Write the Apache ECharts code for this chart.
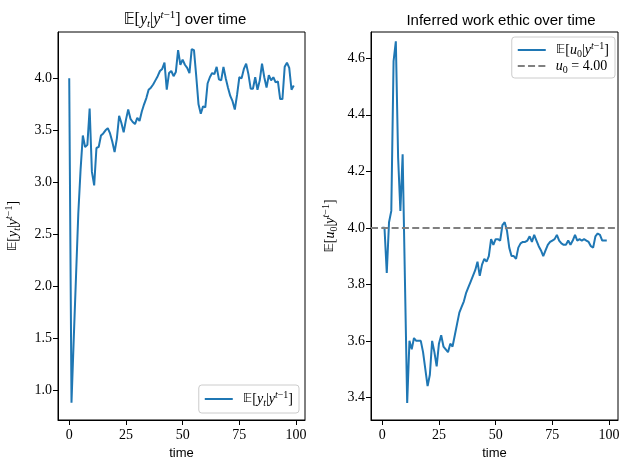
<!DOCTYPE html>
<html>
  <head>
    <meta charset="utf-8" />
    <style>
      html, body {margin: 0; padding: 0; background: #fff;}
      #chart {width: 629px; height: 470px;}
    </style>
    <script src="https://cdn.jsdelivr.net/npm/echarts@6.0.0/dist/echarts.min.js"></script>
  </head>
  <body>
    <div id="chart"></div>
    <script type="text/javascript">
      // expected output E[y_t | y^{t-1}] per time step
      var yMean = [4.00, 0.88, 1.50, 2.10, 2.70, 3.12, 3.45, 3.34, 3.36, 3.71,
                   3.10, 2.97, 3.33, 3.34, 3.45, 3.47, 3.50, 3.52, 3.47, 3.39,
                   3.29, 3.42, 3.64, 3.57, 3.48, 3.60, 3.70, 3.61, 3.58, 3.56,
                   3.62, 3.59, 3.68, 3.75, 3.81, 3.89, 3.91, 3.94, 3.98, 4.02,
                   4.07, 4.09, 4.15, 3.89, 4.05, 4.07, 4.02, 4.06, 4.27, 4.13,
                   4.18, 4.13, 4.10, 4.05, 4.28, 4.27, 4.02, 3.75, 3.66, 3.73,
                   3.72, 3.95, 4.01, 4.05, 4.04, 4.11, 3.99, 3.98, 4.11, 4.00,
                   3.91, 3.83, 3.78, 3.70, 3.84, 4.01, 4.00, 4.09, 4.14, 4.04,
                   3.90, 3.90, 4.01, 3.89, 3.98, 4.14, 4.01, 3.91, 4.03, 3.98,
                   4.01, 3.96, 3.97, 3.80, 3.80, 4.11, 4.15, 4.10, 3.89, 3.93];
      // inferred work ethic E[u_0 | y^{t-1}]
      var uMean = [4.00, 4.00, 3.84, 4.02, 4.06, 4.59, 4.66, 4.25, 4.06, 4.26,
                   3.82, 3.38, 3.60, 3.57, 3.61, 3.60, 3.60, 3.60, 3.56, 3.50,
                   3.44, 3.48, 3.60, 3.56, 3.51, 3.59, 3.62, 3.58, 3.57, 3.56,
                   3.59, 3.58, 3.62, 3.66, 3.70, 3.72, 3.74, 3.77, 3.79, 3.81,
                   3.83, 3.85, 3.88, 3.83, 3.87, 3.89, 3.88, 3.90, 3.96, 3.94,
                   3.96, 3.96, 3.955, 4.01, 4.02, 3.99, 3.93, 3.90, 3.90, 3.89,
                   3.93, 3.945, 3.95, 3.95, 3.955, 3.97, 3.95, 3.975, 3.955, 3.935,
                   3.92, 3.90, 3.92, 3.94, 3.95, 3.955, 3.96, 3.975, 3.955, 3.945,
                   3.94, 3.94, 3.955, 3.94, 3.955, 3.975, 3.955, 3.96, 3.955, 3.96,
                   3.955, 3.95, 3.935, 3.93, 3.97, 3.98, 3.975, 3.955, 3.955, 3.955];
      var u0 = 4.00;
      var times = yMean.map(function (v, i) { return i; });

      var xTicks = [0, 25, 50, 75, 100];
      var yTicksLeft = [1.0, 1.5, 2.0, 2.5, 3.0, 3.5, 4.0];
      var yTicksRight = [3.4, 3.6, 3.8, 4.0, 4.2, 4.4, 4.6];

      var blue = '#1f77b4';
      var grey = '#808080';
      var dash = [7, 3.3];
      var serif = 'Liberation Serif';
      var sans = 'Liberation Sans';

      // little bits of "math" text done with rich text
      function mathRich(big, small, eSize) {
        var base = {fontWeight: 'normal', color: '#000'};
        return {
          E: Object.assign({fontFamily: 'DejaVu Sans', fontSize: eSize, lineHeight: big + 4}, base),
          v: Object.assign({fontFamily: serif, fontStyle: 'italic', fontSize: big, lineHeight: big + 4}, base),
          n: Object.assign({fontFamily: serif, fontSize: big, lineHeight: big + 4}, base),
          sub: Object.assign({fontFamily: serif, fontStyle: 'italic', fontSize: small, lineHeight: small + 2, verticalAlign: 'bottom'}, base),
          subn: Object.assign({fontFamily: serif, fontSize: small, lineHeight: small + 2, verticalAlign: 'bottom'}, base),
          sup: Object.assign({fontFamily: serif, fontStyle: 'italic', fontSize: small, lineHeight: small, verticalAlign: 'top'}, base),
          supn: Object.assign({fontFamily: serif, fontSize: small, lineHeight: small, verticalAlign: 'top'}, base),
          s: Object.assign({fontFamily: sans, fontSize: 15, lineHeight: big + 4}, base)
        };
      }
      var rich = mathRich(14, 10, 13);
      var titleRich = mathRich(16, 11, 15);

      var yLabel = '{E|𝔼}{n|[}{v|y}{sub|t}{n||}{v|y}{sup|t}{supn|−1}{n|]}';
      var uLabel = '{E|𝔼}{n|[}{v|u}{subn|0}{n||}{v|y}{sup|t}{supn|−1}{n|]}';
      var u0Label = '{v|u}{subn|0}{n| = ' + u0.toFixed(2) + '}';

      function xAxisFor(idx) {
        return {
          type: 'value', gridIndex: idx, min: -4.95, max: 103.95,
          name: 'time', nameLocation: 'middle', nameGap: 27,
          nameTextStyle: {fontFamily: sans, fontSize: 13, color: '#000'},
          axisLine: {show: true, onZero: false, lineStyle: {color: '#000', width: 1}},
          axisTick: {show: true, length: 5, customValues: xTicks, lineStyle: {color: '#000'}},
          axisLabel: {customValues: xTicks, fontFamily: serif, fontSize: 14, color: '#000', margin: 8},
          splitLine: {show: false}
        };
      }
      function yAxisFor(idx, lo, hi, ticks, label, gap) {
        return {
          type: 'value', gridIndex: idx, min: lo, max: hi,
          name: label, nameLocation: 'middle', nameGap: gap, nameRotate: 90,
          nameTextStyle: {rich: rich},
          axisLine: {show: true, onZero: false, lineStyle: {color: '#000', width: 1}},
          axisTick: {show: true, length: 5, customValues: ticks, lineStyle: {color: '#000'}},
          axisLabel: {customValues: ticks, fontFamily: serif, fontSize: 14, color: '#000', margin: 6,
                      formatter: function (v) { return v.toFixed(1); }},
          splitLine: {show: false}
        };
      }

      var legendBox = {
        itemWidth: 28, itemHeight: 14,
        backgroundColor: 'rgba(255,255,255,0.8)',
        borderColor: '#cccccc', borderWidth: 1, borderRadius: 3,
        itemStyle: {opacity: 0},
        textStyle: {rich: rich, padding: [0, 0, 0, 5]}
      };

      var chart = echarts.init(document.getElementById('chart'));
      var option = {
        animation: false,
        backgroundColor: '#fff',
        title: [
          {text: yLabel + '{s| over time}',
           left: 180, top: 5, textAlign: 'center', textStyle: {fontWeight: 'normal', rich: titleRich}},
          {text: 'Inferred work ethic over time', left: 496, top: 8, textAlign: 'center',
           textStyle: {fontFamily: sans, fontSize: 15, fontWeight: 'normal', color: '#000'}}
        ],
        grid: [
          {left: 58, right: 324, top: 32, bottom: 50, show: true, borderColor: '#000', borderWidth: 1},
          {left: 371, right: 11, top: 32, bottom: 50, show: true, borderColor: '#000', borderWidth: 1}
        ],
        legend: [
          Object.assign({}, legendBox, {
            data: ['yMean'], right: 330, bottom: 57, padding: [5, 6, 5, 5],
            formatter: function () { return yLabel; }}),
          Object.assign({}, legendBox, {
            data: ['uMean', 'u0'], orient: 'vertical', right: 14, top: 37,
            itemGap: 0, padding: [4, 6, 3, 5],
            formatter: function (name) { return name === 'u0' ? u0Label : uLabel; }})
        ],
        xAxis: [xAxisFor(0), xAxisFor(1)],
        yAxis: [
          yAxisFor(0, 0.715, 4.445, yTicksLeft, yLabel, 36),
          yAxisFor(1, 3.32, 4.693, yTicksRight, uLabel, 32)
        ],
        series: [
          {name: 'yMean', type: 'line', xAxisIndex: 0, yAxisIndex: 0, symbol: 'none',
           lineStyle: {color: blue, width: 2}, itemStyle: {color: blue},
           data: times.map(function (t, i) { return [t, yMean[i]]; })},
          {name: 'uMean', type: 'line', xAxisIndex: 1, yAxisIndex: 1, symbol: 'none',
           lineStyle: {color: blue, width: 2}, itemStyle: {color: blue},
           data: times.map(function (t, i) { return [t, uMean[i]]; })},
          {name: 'u0', type: 'line', xAxisIndex: 1, yAxisIndex: 1, symbol: 'none',
           lineStyle: {color: grey, width: 2, type: dash}, itemStyle: {color: grey},
           data: [],
           markLine: {silent: true, symbol: 'none', label: {show: false},
                      lineStyle: {color: grey, width: 2, type: dash},
                      data: [{yAxis: u0}]}}
        ]
      };
      chart.setOption(option);
    </script>
  </body>
</html>
